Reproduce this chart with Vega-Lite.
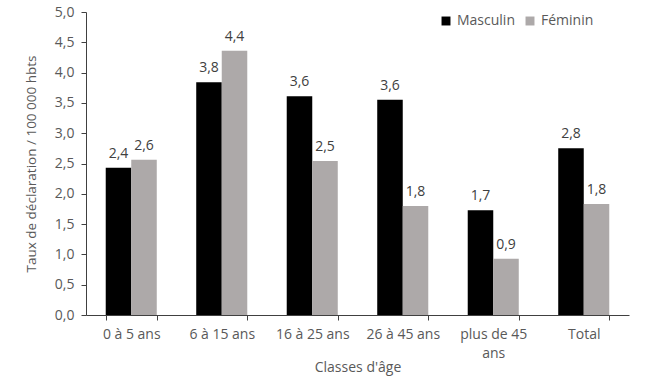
{
  "$schema": "https://vega.github.io/schema/vega-lite/v6.json",
  "width": 543,
  "height": 303,
  "autosize": "none",
  "padding": {"left": 86, "top": 12, "right": 21, "bottom": 66},
  "background": "white",
  "config": {
    "view": {"stroke": null},
    "font": "Open Sans",
    "axis": {"labelFont": "Open Sans", "titleFont": "Open Sans", "labelColor": "#595959", "titleColor": "#595959", "labelFontSize": 14, "titleFontSize": 13, "titleFontWeight": "normal", "domainColor": "#404040", "tickColor": "#404040", "grid": false}
  },
  "data": {
    "values": [
      {"classe": "0 à 5 ans", "sexe": "Masculin", "taux": 2.43, "label": "2,4"},
      {"classe": "0 à 5 ans", "sexe": "Féminin", "taux": 2.56, "label": "2,6"},
      {"classe": "6 à 15 ans", "sexe": "Masculin", "taux": 3.84, "label": "3,8"},
      {"classe": "6 à 15 ans", "sexe": "Féminin", "taux": 4.36, "label": "4,4"},
      {"classe": "16 à 25 ans", "sexe": "Masculin", "taux": 3.61, "label": "3,6"},
      {"classe": "16 à 25 ans", "sexe": "Féminin", "taux": 2.54, "label": "2,5"},
      {"classe": "26 à 45 ans", "sexe": "Masculin", "taux": 3.55, "label": "3,6"},
      {"classe": "26 à 45 ans", "sexe": "Féminin", "taux": 1.8, "label": "1,8"},
      {"classe": "plus de 45 ans", "sexe": "Masculin", "taux": 1.73, "label": "1,7"},
      {"classe": "plus de 45 ans", "sexe": "Féminin", "taux": 0.93, "label": "0,9"},
      {"classe": "Total", "sexe": "Masculin", "taux": 2.75, "label": "2,8"},
      {"classe": "Total", "sexe": "Féminin", "taux": 1.83, "label": "1,8"}
    ]
  },
  "encoding": {
    "x": {
      "field": "classe", "type": "nominal", "sort": null,
      "scale": {"paddingInner": 0.436, "paddingOuter": 0.218},
      "axis": {"title": "Classes d'âge", "labelAngle": 0, "tickBand": "extent", "tickSize": 5, "labelPadding": 7, "titleY": 45, "titleBaseline": "top", "titleFontSize": 14,
        "labelExpr": "datum.label == 'plus de 45 ans' ? ['plus de 45', 'ans'] : datum.label", "labelLineHeight": 19}
    },
    "xOffset": {"field": "sexe", "type": "nominal", "sort": ["Masculin", "Féminin"], "scale": {"paddingInner": 0, "paddingOuter": 0}},
    "y": {
      "field": "taux", "type": "quantitative",
      "scale": {"domain": [0, 5], "nice": false},
      "axis": {"title": "Taux de déclaration / 100 000 hbts", "values": [0, 0.5, 1, 1.5, 2, 2.5, 3, 3.5, 4, 4.5, 5], "labelExpr": "replace(format(datum.value, '.1f'), '.', ',')", "tickSize": 5, "labelPadding": 7, "titlePadding": 16, "titleFontSize": 13.5}
    }
  },
  "layer": [
    {
      "mark": {"type": "bar"},
      "encoding": {
        "color": {
          "field": "sexe", "type": "nominal", "sort": ["Masculin", "Féminin"],
          "scale": {"domain": ["Masculin", "Féminin"], "range": ["#000000", "#ADA9A9"]},
          "legend": {"title": null, "orient": "none", "legendX": 353, "legendY": 2, "direction": "horizontal", "symbolType": "square", "symbolSize": 80, "symbolStrokeWidth": 0, "labelFontSize": 14, "labelColor": "#595959", "labelFont": "Open Sans", "columnPadding": 8, "symbolOffset": 0}
        }
      }
    },
    {
      "mark": {"type": "text", "baseline": "bottom", "dy": -7, "fontSize": 14, "color": "#404040", "font": "Open Sans"},
      "encoding": {"text": {"field": "label"}}
    }
  ]
}
